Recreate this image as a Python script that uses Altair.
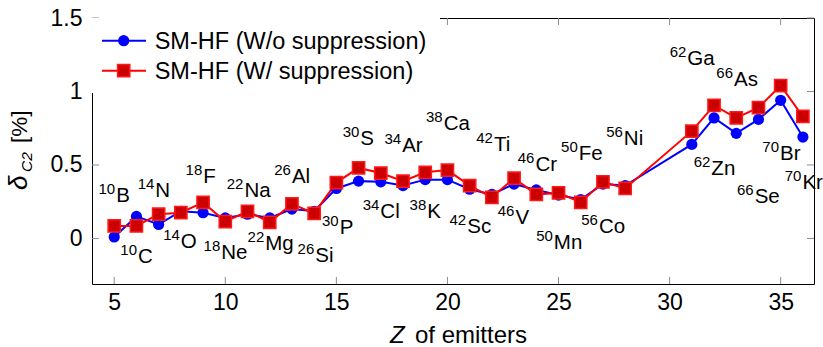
import altair as alt
import pandas as pd

# Charge number Z of each superallowed emitter
Z = [5, 6, 7, 8, 9, 10, 11, 12, 13, 14, 15, 16, 17, 18, 19, 20, 21, 22, 23, 24,
     25, 26, 27, 28, 31, 32, 33, 34, 35, 36]

# delta_C2 [%] without the suppression
delta_wo = [0.01, 0.15, 0.095, 0.185, 0.175, 0.14, 0.165, 0.14, 0.20, 0.185,
            0.34, 0.39, 0.385, 0.36, 0.40, 0.40, 0.335, 0.30, 0.37, 0.33,
            0.295, 0.265, 0.37, 0.36, 0.64, 0.82, 0.715, 0.81, 0.94, 0.69]

# delta_C2 [%] with the suppression
delta_w = [0.085, 0.085, 0.165, 0.175, 0.245, 0.115, 0.185, 0.11, 0.235, 0.17,
           0.38, 0.48, 0.445, 0.39, 0.45, 0.465, 0.36, 0.28, 0.41, 0.30,
           0.31, 0.245, 0.385, 0.34, 0.73, 0.905, 0.82, 0.89, 1.04, 0.83]

SERIES = ["SM-HF (W/o suppression)", "SM-HF (W/ suppression)"]

# Nuclide annotations: mass number, element symbol, anchor (Z, delta)
nuc_mass = ["10", "10", "14", "14", "18", "18", "22", "22", "26", "26",
            "30", "30", "34", "34", "38", "38", "42", "42", "46", "46",
            "50", "50", "56", "56", "62", "62", "66", "66", "70", "70"]
nuc_sym = ["B", "C", "N", "O", "F", "Ne", "Na", "Mg", "Al", "Si",
           "P", "S", "Cl", "Ar", "K", "Ca", "Sc", "Ti", "V", "Cr",
           "Mn", "Fe", "Co", "Ni", "Zn", "Ga", "Se", "As", "Br", "Kr"]
nuc_z = [5.09, 6.07, 6.85, 8.0, 9.01, 9.82, 10.86, 11.8, 13.0, 14.05,
         15.15, 16.08, 16.98, 17.96, 19.09, 19.83, 20.89, 22.09, 23.06, 23.96,
         24.79, 25.91, 26.82, 27.94, 31.88, 30.80, 33.83, 32.90, 34.97, 35.98]
nuc_v = [0.245, -0.165, 0.284, -0.068, 0.379, -0.143, 0.284, -0.08, 0.379, -0.161,
         0.027, 0.639, 0.141, 0.587, 0.141, 0.737, 0.034, 0.594, 0.095, 0.458,
         -0.075, 0.537, 0.034, 0.639, 0.435, 1.177, 0.238, 1.036, 0.537, 0.338]

x_ticks = [5, 10, 15, 20, 25, 30, 35]
y_ticks = [0, 0.5, 1, 1.5]

FONT = "Liberation Sans"
W, H = 722, 266

xs = alt.Scale(domain=[4.0, 36.5], nice=False, zero=False)
ys = alt.Scale(domain=[-0.31, 1.5], nice=False, zero=False)

df = pd.DataFrame({"Z": Z, "wo": delta_wo, "w": delta_w})
labels = pd.DataFrame({"mass": nuc_mass, "sym": nuc_sym, "Z": nuc_z, "v": nuc_v})
xt = pd.DataFrame({"t": x_ticks})
yt = pd.DataFrame({"t": y_ticks})
one = pd.DataFrame({"k": [0]})

x_axis = alt.Axis(values=x_ticks, title=None, tickSize=0, domain=False, grid=False,
                  labelFontSize=23, labelFont=FONT, labelColor="black", labelPadding=7)
y_axis = alt.Axis(values=y_ticks, title=None, tickSize=0, domain=False, grid=False,
                  format="~g", labelFontSize=23, labelFont=FONT, labelColor="black",
                  labelPadding=10)

base = alt.Chart(df)

# Frame ticks, pointing inward
tick_col = "#8c8c8c"
bottom_ticks = alt.Chart(xt).mark_rule(color=tick_col, strokeWidth=1).encode(
    x=alt.X("t:Q", scale=xs, axis=x_axis), y=alt.value(H), y2=alt.value(H - 7))
top_ticks = alt.Chart(xt).mark_rule(color=tick_col, strokeWidth=1).encode(
    x=alt.X("t:Q", scale=xs), y=alt.value(0), y2=alt.value(7))
left_ticks = alt.Chart(yt).mark_rule(color=tick_col, strokeWidth=1).encode(
    y=alt.Y("t:Q", scale=ys, axis=y_axis), x=alt.value(0), x2=alt.value(7))
right_ticks = alt.Chart(yt).mark_rule(color=tick_col, strokeWidth=1).encode(
    y=alt.Y("t:Q", scale=ys), x=alt.value(W), x2=alt.value(W - 7))

# Data series
CIRCLE_SIZE = 125
SQUARE_SIZE = 150
blue_line = base.mark_line(color="#0000ff", strokeWidth=2).encode(
    x=alt.X("Z:Q", scale=xs), y=alt.Y("wo:Q", scale=ys))
blue_pts = base.mark_point(shape="circle", filled=True, color="#0000ff",
                           size=CIRCLE_SIZE, opacity=1).encode(
    x=alt.X("Z:Q", scale=xs), y=alt.Y("wo:Q", scale=ys))
red_line = base.mark_line(color="#ff0000", strokeWidth=2).encode(
    x=alt.X("Z:Q", scale=xs), y=alt.Y("w:Q", scale=ys))
red_pts = base.mark_point(shape="square", filled=True, fill="#cc0000",
                          stroke="#ff1a1a", strokeWidth=1.5, size=SQUARE_SIZE,
                          opacity=1).encode(
    x=alt.X("Z:Q", scale=xs), y=alt.Y("w:Q", scale=ys))

# Nuclide labels: element symbol with raised mass number
sym_text = alt.Chart(labels).mark_text(align="left", baseline="alphabetic",
                                       font=FONT, fontSize=20.5, color="black").encode(
    x=alt.X("Z:Q", scale=xs), y=alt.Y("v:Q", scale=ys), text="sym:N")
mass_text = alt.Chart(labels).mark_text(align="right", baseline="alphabetic",
                                        font=FONT, fontSize=15, color="black",
                                        dx=-1, dy=-8).encode(
    x=alt.X("Z:Q", scale=xs), y=alt.Y("v:Q", scale=ys), text="mass:N")

# Legend
leg_bg = alt.Chart(one).mark_rect(fill="white").encode(
    x=alt.value(0), x2=alt.value(348), y=alt.value(0), y2=alt.value(75))
leg_rows = pd.DataFrame({"name": SERIES, "row": [0, 1]})
leg_y = [22.7, 52.7]
leg_items = []
for i, col in enumerate(["#0000ff", "#ff0000"]):
    row = alt.Chart(leg_rows[leg_rows["row"] == i])
    leg_items.append(row.mark_rule(color=col, strokeWidth=2).encode(
        x=alt.value(10), x2=alt.value(54), y=alt.value(leg_y[i])))
    if i == 0:
        leg_items.append(row.mark_point(shape="circle", filled=True, color=col,
                                        size=CIRCLE_SIZE, opacity=1).encode(
            x=alt.value(31.7), y=alt.value(leg_y[i])))
    else:
        leg_items.append(row.mark_point(shape="square", filled=True, fill="#cc0000",
                                        stroke="#ff1a1a", strokeWidth=1.5,
                                        size=SQUARE_SIZE, opacity=1).encode(
            x=alt.value(31.7), y=alt.value(leg_y[i])))
    leg_items.append(row.mark_text(align="left", baseline="middle", font=FONT,
                                   fontSize=23.5, color="black").encode(
        x=alt.value(62.7), y=alt.value(leg_y[i] + 1), text="name:N"))

# Axis titles
ytitle = [
    alt.Chart(one).mark_text(text="δ", angle=270, align="left", baseline="alphabetic",
                             font=FONT, fontSize=26, fontStyle="italic", color="black").encode(
        x=alt.value(-65), y=alt.value(172)),
    alt.Chart(one).mark_text(text="C2", angle=270, align="left", baseline="alphabetic",
                             font=FONT, fontSize=15.5, fontStyle="italic", color="black").encode(
        x=alt.value(-60), y=alt.value(154)),
    alt.Chart(one).mark_text(text="[%]", angle=270, align="left", baseline="alphabetic",
                             font=FONT, fontSize=22.5, color="black").encode(
        x=alt.value(-65), y=alt.value(125)),
]
xtitle = [
    alt.Chart(one).mark_text(text="Z", align="left", baseline="alphabetic",
                             font=FONT, fontSize=24, fontStyle="italic", color="black").encode(
        x=alt.value(298), y=alt.value(325)),
    alt.Chart(one).mark_text(text="of emitters", align="left", baseline="alphabetic",
                             font=FONT, fontSize=24, color="black").encode(
        x=alt.value(323), y=alt.value(325)),
]

chart = alt.layer(
    bottom_ticks, top_ticks, left_ticks, right_ticks,
    blue_line, red_line, blue_pts, red_pts,
    sym_text, mass_text,
    leg_bg, *leg_items, *ytitle, *xtitle,
).properties(
    width=W, height=H,
    autosize=alt.AutoSizeParams(type="none"),
    padding={"left": 92, "top": 18, "right": 9, "bottom": 63},
    background="white",
).configure_view(stroke="black", strokeWidth=1)

chart.save("out.html", embed_options={"renderer": "svg", "actions": False})
